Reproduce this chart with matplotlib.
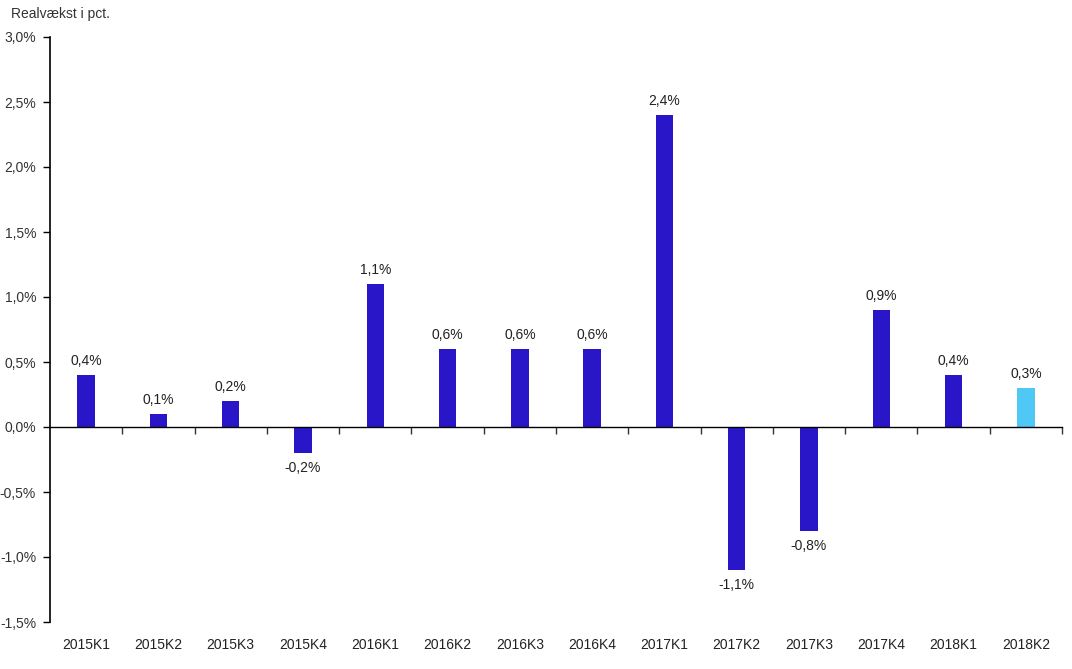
import matplotlib.pyplot as plt
from matplotlib.transforms import blended_transform_factory

# data
quarters = ["2015K1", "2015K2", "2015K3", "2015K4", "2016K1", "2016K2", "2016K3",
            "2016K4", "2017K1", "2017K2", "2017K3", "2017K4", "2018K1", "2018K2"]
growth = [0.4, 0.1, 0.2, -0.2, 1.1, 0.6, 0.6, 0.6, 2.4, -1.1, -0.8, 0.9, 0.4, 0.3]
yticks = [-1.5, -1.0, -0.5, 0.0, 0.5, 1.0, 1.5, 2.0, 2.5, 3.0]

dark = "#2a16c9"
light = "#4fc8f6"
colors = [dark] * (len(growth) - 1) + [light]

plt.rcParams['font.family'] = ['Liberation Sans', 'DejaVu Sans']

fig = plt.figure(figsize=(10.72, 6.69), dpi=100)
ax = fig.add_axes([50 / 1072, 47 / 669, 1012 / 1072, 585 / 669])

x = list(range(len(quarters)))
ax.bar(x, growth, width=0.24, color=colors, zorder=2)

def fmt(v):
    return f"{v:.1f}%".replace(".", ",")

for xi, v in zip(x, growth):
    if v >= 0:
        ax.annotate(fmt(v), (xi, v), xytext=(0, 5), textcoords="offset points",
                    ha="center", va="bottom", fontsize=10, color="#222222")
    else:
        ax.annotate(fmt(v), (xi, v), xytext=(0, -6), textcoords="offset points",
                    ha="center", va="top", fontsize=10, color="#222222")

ax.set_xlim(-0.5, len(quarters) - 0.5)
ax.set_ylim(-1.5, 3.0)
ax.set_yticks(yticks)
ax.set_yticklabels([fmt(v) for v in yticks], fontsize=10, color="#333333")
ax.tick_params(axis="y", length=5, width=1, direction="out", pad=5)

# zero line with boundary ticks
ax.spines["top"].set_visible(False)
ax.spines["right"].set_visible(False)
ax.spines["bottom"].set_position(("data", 0))
ax.spines["left"].set_linewidth(1.2)
ax.spines["bottom"].set_linewidth(1.0)
ax.set_xticks([i + 0.5 for i in x])
ax.set_xticklabels([])
ax.tick_params(axis="x", length=5, width=1, direction="out", color="#333333")

trans = blended_transform_factory(ax.transData, ax.transAxes)
for xi, q in zip(x, quarters):
    ax.text(xi, -0.028, q, transform=trans, ha="center", va="top",
            fontsize=10, color="#222222")

fig.text(11 / 1072, 1 - 14 / 669, "Realvækst i pct.", ha="left", va="center",
         fontsize=10, color="#333333")

fig.savefig("out.png", dpi=100)
